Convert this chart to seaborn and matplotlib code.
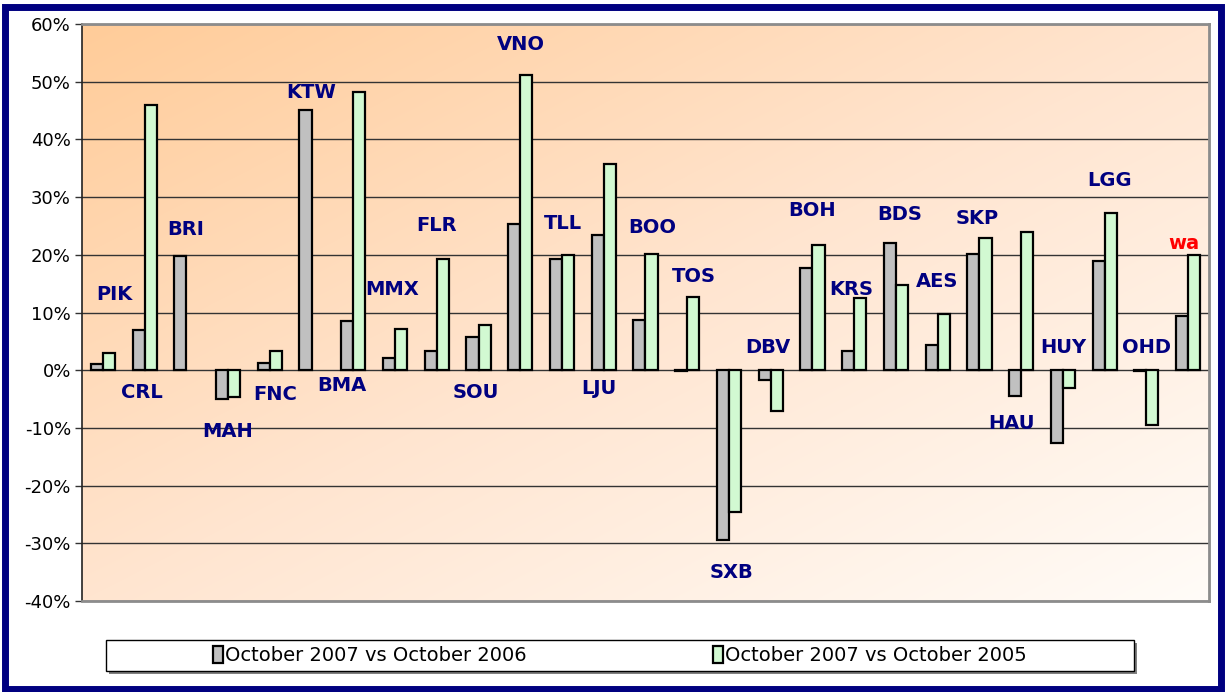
import numpy as np
import pandas as pd
import matplotlib
matplotlib.use("Agg")
import matplotlib.pyplot as plt
import matplotlib.patches as mpatches
import seaborn as sns

# airport codes, left to right
airports = ["PIK", "CRL", "BRI", "MAH", "FNC", "KTW", "BMA", "MMX", "FLR", "SOU",
            "VNO", "TLL", "LJU", "BOO", "TOS", "SXB", "DBV", "BOH", "KRS", "BDS",
            "AES", "SKP", "HAU", "HUY", "LGG", "OHD", "wa"]

# % change, October 2007 vs October 2006
vs_2006 = [1.0, 7.0, 19.8, -5.0, 1.2, 45.1, 8.5, 2.1, 3.3, 5.7,
           25.4, 19.2, 23.4, 8.7, -0.2, -29.5, -1.7, 17.7, 3.3, 22.0,
           4.3, 20.1, -4.5, -12.6, 18.9, -0.2, 9.4]

# % change, October 2007 vs October 2005 (None = no bar)
vs_2005 = [2.9, 46.0, None, -4.6, 3.3, None, 48.2, 7.1, 19.2, 7.8,
           51.1, 20.0, 35.8, 20.2, 12.7, -24.6, -7.0, 21.7, 12.6, 14.7,
           9.7, 22.9, 23.9, -3.1, 27.3, -9.5, 19.9]

series = ["October 2007 vs October 2006", "October 2007 vs October 2005"]
yticks = [-40, -30, -20, -10, 0, 10, 20, 30, 40, 50, 60]

# where each code label sits (x in category units, y in %)
label_x = [0.27, 0.94, 1.99, 3.0, 4.12, 4.99, 5.73, 6.93, 8.0, 8.94,
           10.02, 11.02, 11.89, 13.16, 14.16, 15.07, 15.94, 16.99, 17.92, 19.1,
           19.98, 20.94, 21.78, 23.0, 24.12, 25.0, 25.9]
label_y = [13.2, -3.8, 24.4, -10.7, -4.2, 48.2, -2.6, 14.0, 25.0, -3.8,
           56.5, 25.5, -3.1, 24.8, 16.3, -35.0, 4.0, 27.7, 14.0, 26.9,
           15.3, 26.3, -9.2, 4.0, 32.9, 4.0, 22.0]

df = pd.DataFrame({
    "airport": airports * 2,
    "series": [series[0]] * len(airports) + [series[1]] * len(airports),
    "value": vs_2006 + vs_2005,
}).dropna()

sns.set_theme(style="white")
plt.rcParams["font.family"] = ["DejaVu Sans"]
plt.rcParams["text.color"] = "black"
plt.rcParams["ytick.color"] = "black"

fig = plt.figure(figsize=(12.28, 6.92), dpi=100)
ax = fig.add_axes([0.0668, 0.1315, 0.9177, 0.8338])

# diagonal peach -> white background
u = np.linspace(0, 1, 400)
v = np.linspace(1, 0, 300)
U, V = np.meshgrid(u, v)
t = (U + (1 - V)) / 2
stops_t = [0.0, 0.5, 1.0]
stops_c = np.array([[255, 204, 153], [255, 229, 208], [255, 252, 248]]) / 255
img = np.dstack([np.interp(t, stops_t, stops_c[:, k]) for k in range(3)])
ax.imshow(img, extent=[0, 1, 0, 1], transform=ax.transAxes, aspect="auto",
          zorder=0, interpolation="bilinear")

sns.barplot(data=df, x="airport", y="value", hue="series",
            order=airports, hue_order=series,
            palette={series[0]: "#C0C0C0", series[1]: "#CCFFCC"},
            width=0.58, edgecolor="black", linewidth=1.6,
            errorbar=None, ax=ax, zorder=3)

ax.set_xlim(-0.5, len(airports) - 0.5)
ax.set_ylim(-40, 60)
ax.set_yticks(yticks)
ax.set_yticklabels([f"{y}%" for y in yticks], fontsize=13, color="black")
ax.set_xticks([])
ax.set_xlabel("")
ax.set_ylabel("")
ax.yaxis.grid(True, color="#333333", linewidth=1)
ax.set_axisbelow(True)
ax.tick_params(axis="y", left=True, length=5, width=1, color="#333333", pad=3)

ax.spines["left"].set_color("#222222")
ax.spines["left"].set_linewidth(1.2)
for side in ["top", "right", "bottom"]:
    ax.spines[side].set_color("#8C8C8C")
    ax.spines[side].set_linewidth(2)

for name, lx, ly in zip(airports, label_x, label_y):
    ax.text(lx, ly, name, ha="center", va="center", fontsize=14,
            fontweight="bold", color="red" if name == "wa" else "#000080",
            zorder=5)

# legend below the plot, in a framed box with a shadow
handles, labels = ax.get_legend_handles_labels()
ax.get_legend().remove()
fig.patches.append(mpatches.Rectangle((0.0863 + 0.0025, 0.0303 - 0.004), 0.8371, 0.0448,
                                      transform=fig.transFigure, facecolor="#808080",
                                      edgecolor="none", zorder=1))
fig.patches.append(mpatches.Rectangle((0.0863, 0.0303), 0.8371, 0.0448,
                                      transform=fig.transFigure, facecolor="white",
                                      edgecolor="black", linewidth=1, zorder=2))
leg = fig.legend(handles, labels, loc="center", bbox_to_anchor=(0.505, 0.0527), ncol=2,
                 frameon=False, fontsize=14, handlelength=0.5, handleheight=1.0,
                 handletextpad=0.1, columnspacing=9.6)
for txt in leg.get_texts():
    txt.set_color("black")

# navy outer frame
fig.patches.append(mpatches.Rectangle((0.0041, 0.0043), 0.9906, 0.9863,
                                      transform=fig.transFigure, fill=False,
                                      edgecolor="#000080", linewidth=5, zorder=10))

fig.savefig("out.png", dpi=100)
